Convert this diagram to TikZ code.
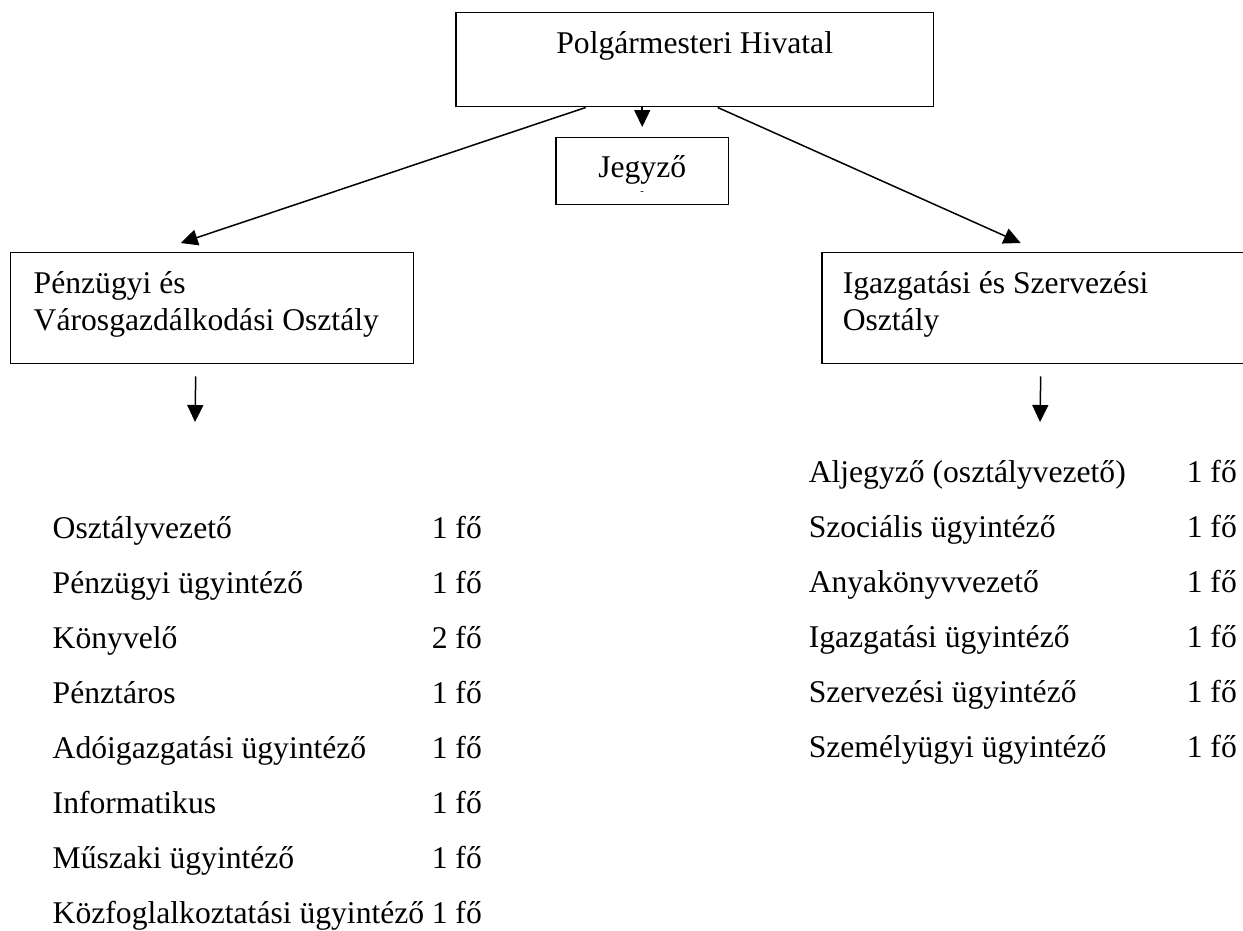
\documentclass[tikz,border=0pt]{standalone}
\usepackage{fontspec}
\setmainfont{Liberation Serif}
\usetikzlibrary{arrows.meta}

\begin{document}
\begin{tikzpicture}[x=0.02cm,y=-0.02cm,->,>={Triangle[length=0.34cm,width=0.32cm]},line width=0.85pt,
    main box/.style={draw,rectangle,anchor=north west,font=\fontsize{18}{21}\selectfont},
    list item/.style={anchor=base west,inner sep=0pt,font=\fontsize{18}{21}\selectfont}]
                \clip (0,0) rectangle (1243,930);
                \node[main box,minimum width=9.56cm,inner ysep=0.2cm,text height=0.62cm,text depth=0.86cm] (hivatal) at (455,12) {Polgármesteri Hivatal};
                \node[main box,minimum width=3.46cm,inner ysep=0.15cm,text height=0.65cm,text depth=0.39cm] (jegyzo) at (555,137) {Jegyző};
                \node[font=\fontsize{6}{6}\selectfont,inner sep=0pt] (jdash) at (642,193) {-};
                \node[main box,text width=7.14cm,align=left,inner xsep=0.46cm,inner ysep=0.2cm,text height=0.62cm,text depth=1.2cm] (penz) at (10,252) {\spaceskip=0pt Pénzügyi és\\Városgazdálkodási Osztály};
                \node[main box,text width=8.76cm,align=left,inner xsep=0.42cm,inner ysep=0.2cm,text height=0.62cm,text depth=1.2cm] (igaz) at (821,252) {\spaceskip=0pt Igazgatási és Szervezési\\Osztály};

                \coordinate (penzlist) at (195,422);
                \coordinate (igazlist) at (1040,422);

                \path
                    (hivatal.south -| jegyzo.north) edge [shorten >=0.2cm] (jegyzo.north)
                    ([xshift=-2.18cm]hivatal.south) edge ([xshift=-0.63cm,yshift=0.18cm]penz.north)
                    ([xshift=0.46cm]hivatal.south) edge ([xshift=-0.82cm,yshift=0.18cm]igaz.north)
                    ([xshift=-0.33cm,yshift=-0.24cm]penz.south) edge (penzlist)
                    ([xshift=-0.42cm,yshift=-0.24cm]igaz.south) edge (igazlist)
                    ;

                \foreach \name/\num [count=\i from 0] in {Osztályvezető/1,Pénzügyi ügyintéző/1,Könyvelő/2,Pénztáros/1,Adóigazgatási ügyintéző/1,Informatikus/1,Műszaki ügyintéző/1,Közfoglalkoztatási ügyintéző/1}{
                    \node[list item] (pl\i) at (52,{538+55*\i}) {\name};
                    \node[list item] (pn\i) at (431,{538+55*\i}) {\num\ fő};
                }
                \foreach \name [count=\i from 0] in {Aljegyző (osztályvezető),Szociális ügyintéző,Anyakönyvvezető,Igazgatási ügyintéző,Szervezési ügyintéző,Személyügyi ügyintéző}{
                    \node[list item] (il\i) at (808,{482+55*\i}) {\name};
                    \node[list item] (in\i) at (1186,{482+55*\i}) {1 fő};
                }
            \end{tikzpicture}
\end{document}
